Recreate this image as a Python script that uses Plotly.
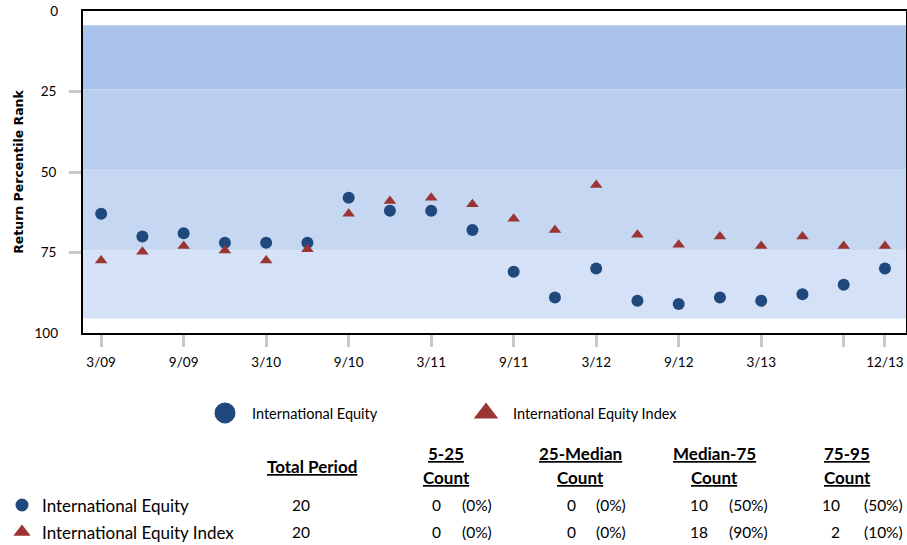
import plotly.graph_objects as go

# ---------------- data ----------------
quarters = ["3/09", "6/09", "9/09", "12/09", "3/10", "6/10", "9/10", "12/10",
            "3/11", "6/11", "9/11", "12/11", "3/12", "6/12", "9/12", "12/12",
            "3/13", "6/13", "9/13", "12/13"]
equity_rank = [63, 70, 69, 72, 72, 72, 58, 62, 62, 68,
               81, 89, 80, 90, 91, 89, 90, 88, 85, 80]
index_rank = [77.5, 74.8, 73, 74.4, 77.5, 74, 63, 59, 58, 60,
              64.5, 68, 54, 69.5, 72.6, 70, 73, 70, 73, 73]
tick_quarters = ["3/09", "9/09", "3/10", "9/10", "3/11", "9/11", "3/12",
                 "9/12", "3/13", "9/13", "12/13"]
tick_labels = ["3/09", "9/09", "3/10", "9/10", "3/11", "9/11", "3/12",
               "9/12", "3/13", "", "12/13"]
y_ticks_inner = [25, 50, 75]
y_ticks_ends = [0, 100]
band_edges = [4.4, 24.3, 49.3, 74.3, 95.5]

series_names = ["International Equity", "International Equity Index"]
total_period = [20, 20]
count_columns = ["5-25", "25-Median", "Median-75", "75-95"]
equity_counts = [0, 0, 10, 10]
index_counts = [0, 0, 18, 2]

# ---------------- style ----------------
W, H = 907, 545
FONT = "Lato"
C_EQ = "#1F497D"
C_IX = "#9B3535"
band_colors = ["#A9C3EC", "#B8CDEF", "#C6D7F1", "#D4E1F6"]
TICK_GREY = "#C5C9CE"

def px_x(x):
    return x / W

def px_y(y):
    return 1 - y / H

fig = go.Figure()

# bands
for i in range(len(band_edges) - 1):
    fig.add_shape(type="rect", xref="x domain", yref="y", x0=0, x1=1,
                  y0=band_edges[i], y1=band_edges[i + 1],
                  fillcolor=band_colors[i], line_width=0, layer="below")

# data traces
fig.add_trace(go.Scatter(x=quarters, y=equity_rank, mode="markers",
                         marker=dict(symbol="circle", size=12, color=C_EQ),
                         name=series_names[0], showlegend=False))
fig.add_trace(go.Scatter(x=quarters, y=index_rank, mode="markers",
                         marker=dict(symbol="triangle-up", size=11, color=C_IX),
                         name=series_names[1], showlegend=False))

# legend entries (bigger symbols)
fig.add_trace(go.Scatter(x=[None], y=[None], mode="markers", name=series_names[0],
                         marker=dict(symbol="circle", size=16, color=C_EQ,
                                     line=dict(color=C_EQ, width=5))))
fig.add_trace(go.Scatter(x=[None], y=[None], mode="markers", name=series_names[1],
                         marker=dict(symbol="triangle-up", size=16, color=C_IX,
                                     line=dict(color=C_IX, width=3))))

# dummy on overlay axis for 0/100 labels
fig.add_trace(go.Scatter(x=[None], y=[None], yaxis="y2", showlegend=False,
                         hoverinfo="skip"))

# table row symbols on hidden axes
fig.add_trace(go.Scatter(x=[0], y=[series_names[0]], xaxis="x3", yaxis="y3",
                         mode="markers", showlegend=False, hoverinfo="skip",
                         marker=dict(symbol="circle", size=13, color=C_EQ)))
fig.add_trace(go.Scatter(x=[0], y=[series_names[1]], xaxis="x3", yaxis="y3",
                         mode="markers", showlegend=False, hoverinfo="skip",
                         marker=dict(symbol="triangle-up", size=15, color=C_IX)))

plot_top, plot_bottom = 11, 333
ydom = [px_y(plot_bottom), px_y(plot_top)]

fig.update_layout(
    width=W, height=H,
    margin=dict(l=0, r=0, t=0, b=0, pad=0, autoexpand=False),
    paper_bgcolor="white", plot_bgcolor="white",
    font=dict(family=FONT, color="black"),
    xaxis=dict(domain=[px_x(83), px_x(906)], anchor="y", type="category",
               categoryorder="array", categoryarray=quarters,
               range=[-0.44, 19.51], tickmode="array",
               tickvals=tick_quarters, ticktext=tick_labels,
               ticks="outside", ticklen=12, tickwidth=3, tickcolor=TICK_GREY,
               ticklabelstandoff=4, automargin=False,
               tickfont=dict(size=13.5, family=FONT),
               showline=True, mirror=True, linecolor="black", linewidth=2,
               showgrid=False, zeroline=False),
    yaxis=dict(domain=ydom, anchor="x", range=[100, 0], tickmode="array",
               tickvals=y_ticks_inner, ticks="outside", ticklen=12, tickwidth=3,
               tickcolor=TICK_GREY, ticklabelstandoff=10, automargin=False,
               tickfont=dict(size=13.5, family=FONT),
               showline=True, mirror=True, linecolor="black", linewidth=2,
               showgrid=False, zeroline=False,
               title=dict(text="<b>Return Percentile Rank</b>",
                          font=dict(size=12.5, family="DejaVu Sans"), standoff=14)),
    yaxis2=dict(overlaying="y", anchor="x", side="left", range=[100, 0],
                tickmode="array", tickvals=y_ticks_ends, ticks="",
                ticklabelstandoff=24, tickfont=dict(size=13.5, family=FONT),
                automargin=False,
                showline=False, showgrid=False, zeroline=False),
    xaxis3=dict(domain=[0, 1], anchor="y3", range=[-22, W - 22], visible=False,
                automargin=False),
    yaxis3=dict(domain=[0, px_y(491.5)], anchor="x3", type="category",
                categoryorder="array", categoryarray=series_names,
                range=[1.48, -0.5], visible=False, automargin=False),
    legend=dict(orientation="h", x=px_x(198), xanchor="left",
                y=px_y(413), yanchor="middle", font=dict(size=14.5, family=FONT),
                entrywidth=202, entrywidthmode="pixels", itemwidth=44,
                bgcolor="rgba(0,0,0,0)", itemsizing="trace"),
    showlegend=True,
)

# ---------------- table text ----------------
TS = 17
NS = 15.5
row_y = [505, 532]
col_center = [446, 580, 714, 847]
num_right = [443, 578, 710, 842]
pct_left = [460, 594, 727, 862]

def ann(text, x, y, xanchor="center", size=TS):
    fig.add_annotation(text=text, xref="paper", yref="paper",
                       x=px_x(x), y=px_y(y), xanchor=xanchor, yanchor="middle",
                       showarrow=False, font=dict(size=size, family=FONT, color="black"))

ann("<b><u>Total Period</u></b>", 312, 466)
for c, cx in zip(count_columns, col_center):
    ann("<b><u>%s</u></b>" % c, cx, 453)
    ann("<b><u>Count</u></b>", cx, 477)

all_counts = [equity_counts, index_counts]
for r, name in enumerate(series_names):
    ann(name, 40, row_y[r], xanchor="left")
    ann(str(total_period[r]), 301, row_y[r], size=NS)
    for j, cnt in enumerate(all_counts[r]):
        pct = round(100 * cnt / total_period[r])
        ann(str(cnt), num_right[j], row_y[r], xanchor="right", size=NS)
        ann("(%d%%)" % pct, pct_left[j], row_y[r], xanchor="left", size=NS)

fig.write_html(
    "out.html",
    config={"displayModeBar": False},
    post_script="document.body.style.margin='0';document.body.style.overflow='hidden';",
)
